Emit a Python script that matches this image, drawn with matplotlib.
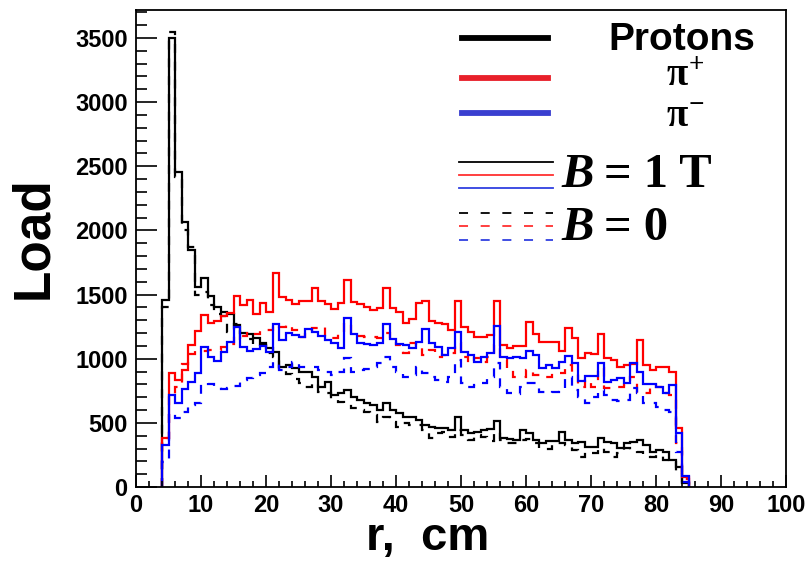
import numpy as np
import matplotlib
matplotlib.use("Agg")
import matplotlib.pyplot as plt
from matplotlib.ticker import MultipleLocator

plt.rcParams["mathtext.fontset"] = "custom"
plt.rcParams["mathtext.rm"] = "Liberation Serif:bold"
plt.rcParams["mathtext.it"] = "Liberation Serif:bold"
plt.rcParams["mathtext.bf"] = "Liberation Serif:bold"

# bin edges (cm): 1 cm bins from 4 to 85
bin_lo = 4
bin_hi = 85

protons_B1 = [1457, 3497, 2458, 2068, 1847, 1561, 1631, 1489, 1405, 1361, 1348, 1263, 1198, 1190, 1159, 1120,
              1081, 1055, 939, 952, 926, 899, 899, 860, 782, 821, 717, 730, 756, 704, 678, 652,
              639, 600, 652, 600, 574, 548, 548, 522, 483, 470, 457, 457, 444, 548, 444, 418,
              431, 444, 449, 514, 379, 371, 366, 444, 423, 366, 345, 361, 361, 431, 366, 340,
              353, 314, 314, 379, 353, 340, 301, 340, 353, 366, 327, 275, 288, 275, 210, 153, 28]
protons_B0 = [1400, 3549, 2420, 2000, 1870, 1500, 1520, 1420, 1350, 1330, 1210, 1270, 1150, 1150, 1100, 1110,
              1042, 1016, 912, 881, 839, 808, 782, 808, 743, 730, 678, 665, 652, 613, 600, 587,
              561, 509, 548, 509, 470, 496, 480, 483, 444, 379, 418, 431, 392, 444, 405, 366,
              405, 392, 361, 431, 366, 340, 340, 366, 372, 340, 301, 293, 340, 340, 327, 288,
              236, 275, 262, 301, 275, 236, 262, 301, 288, 275, 249, 236, 249, 210, 197, 106, 23]
pip_B1 = [379, 890, 836, 914, 1109, 1213, 1343, 1278, 1291, 1330, 1356, 1491, 1421, 1455, 1351, 1437,
          1367, 1665, 1483, 1457, 1426, 1452, 1452, 1548, 1450, 1426, 1385, 1437, 1614, 1444, 1426, 1400,
          1379, 1392, 1548, 1392, 1366, 1276, 1307, 1431, 1450, 1296, 1276, 1268, 1224, 1452, 1250, 1211,
          1167, 1172, 1185, 1452, 1107, 1081, 1099, 1099, 1289, 1193, 1133, 1133, 1133, 1063, 1237, 1159,
          1003, 1047, 1036, 1193, 1003, 990, 932, 951, 959, 1146, 951, 912, 938, 932, 899, 457, 81]
pip_B0 = [379, 720, 781, 960, 1037, 1063, 1063, 1068, 1068, 1094, 1114, 1179, 1179, 1205, 1192, 1224,
          1224, 1263, 1250, 1263, 1224, 1172, 1224, 1237, 1250, 1172, 1159, 1211, 1276, 1198, 1177, 1167,
          1172, 1159, 1198, 1133, 1107, 1042, 1120, 1107, 1029, 1068, 1016, 1029, 1042, 1120, 1016, 964,
          1003, 977, 1016, 1107, 990, 918, 860, 860, 912, 873, 873, 860, 886, 886, 952, 886,
          782, 834, 782, 925, 769, 782, 782, 795, 860, 743, 730, 795, 782, 730, 717, 340, 60]
pim_B1 = [327, 717, 652, 761, 821, 891, 1094, 1011, 985, 1055, 1133, 1250, 1094, 1063, 1073, 1100,
          1050, 1270, 1146, 1198, 1185, 1172, 1229, 1211, 1177, 1146, 1120, 1081, 1314, 1193, 1120, 1115,
          1107, 1120, 1270, 1151, 1115, 1107, 1081, 1133, 1232, 1120, 1094, 1029, 1081, 1211, 1055, 1029,
          977, 1016, 1047, 1255, 1016, 1003, 1010, 1003, 1063, 1029, 926, 952, 926, 977, 1021, 969,
          829, 865, 865, 964, 821, 834, 847, 808, 964, 899, 800, 800, 782, 730, 795, 418, 86]
pim_B0 = [197, 574, 535, 587, 639, 652, 810, 800, 790, 760, 770, 790, 834, 850, 870, 890,
          938, 977, 912, 938, 977, 938, 938, 938, 912, 899, 873, 899, 1003, 899, 912, 918,
          938, 964, 1016, 938, 899, 860, 873, 938, 886, 860, 834, 821, 860, 990, 808, 782,
          795, 813, 855, 964, 782, 730, 725, 782, 813, 813, 743, 735, 743, 756, 860, 756,
          704, 657, 704, 756, 717, 678, 673, 678, 769, 730, 652, 652, 626, 600, 587, 275, 42]

x_ticks = [0, 10, 20, 30, 40, 50, 60, 70, 80, 90, 100]
y_ticks = [0, 500, 1000, 1500, 2000, 2500, 3000, 3500]

W, H = 806, 561
fig = plt.figure(figsize=(W / 100, H / 100), dpi=100)
ax = fig.add_axes([136 / W, 1 - 487 / H, (786 - 136) / W, (487 - 10) / H])

edges = np.arange(bin_lo, bin_hi + 1)
series = [
    (protons_B1, "black", "-"),
    (protons_B0, "black", (0, (4, 4))),
    (pip_B1, "#ff0000", "-"),
    (pip_B0, "#ff0000", (0, (4, 4))),
    (pim_B1, "#0000ff", "-"),
    (pim_B0, "#0000ff", (0, (4, 4))),
]
for vals, col, ls in series:
    ax.stairs(vals, edges, baseline=0, color=col, linestyle=ls, linewidth=1.6)

ax.set_xlim(0, 100)
ax.set_ylim(0, 3718)
ax.set_xticks(x_ticks)
ax.set_yticks(y_ticks)
ax.xaxis.set_minor_locator(MultipleLocator(2))
ax.yaxis.set_minor_locator(MultipleLocator(100))

lab_font = dict(family="Liberation Sans", weight="bold", size=17)
ax.set_xticklabels([str(v) for v in x_ticks], fontdict=lab_font)
ax.set_yticklabels([str(v) for v in y_ticks], fontdict=lab_font)
ax.tick_params(axis="y", which="major", direction="in", length=15, width=1.2, pad=6)
ax.tick_params(axis="y", which="minor", direction="in", length=8, width=1.2)
ax.tick_params(axis="x", which="major", direction="in", length=9, width=1.2, pad=5)
ax.tick_params(axis="x", which="minor", direction="in", length=4.5, width=1.2)
for s in ax.spines.values():
    s.set_linewidth(1.3)

ax.set_xlabel("r,  cm", family="Liberation Sans", weight="bold", size=34)
ax.set_ylabel("Load", family="Liberation Sans", weight="bold", size=37)
ax.xaxis.set_label_coords((428 - 136) / 650, -(538 - 487) / 477)
ax.yaxis.set_label_coords((34 - 136) / 650, (487 - 238) / 477)
ax.xaxis.label.set_va("center")
ax.yaxis.label.set_va("center")

# legend (drawn manually, in figure pixel coords)
def fx(px):
    return px / W

def fy(py):
    return 1 - py / H

for py, col in [(38, "black"), (78, "#e8202a"), (113, "#3a3fd0")]:
    fig.add_artist(plt.Line2D([fx(462), fx(548)], [fy(py), fy(py)], color=col, linewidth=4.2))

fig.text(fx(682), fy(40), "Protons", family="Liberation Sans", weight="bold", size=28,
         ha="center", va="center")
fig.text(fx(685), fy(75), r"$\pi^{+}$", size=28, ha="center", va="center")
fig.text(fx(685), fy(116), r"$\pi^{-}$", size=28, ha="center", va="center")

for py, col in [(162, "black"), (175, "#ff3030"), (188, "#3040e0")]:
    fig.add_artist(plt.Line2D([fx(459), fx(553)], [fy(py), fy(py)], color=col, linewidth=1.3))
for py, col in [(213, "black"), (226, "#ff3030"), (240, "#3040e0")]:
    fig.add_artist(plt.Line2D([fx(459), fx(553)], [fy(py), fy(py)], color=col, linewidth=1.3,
                              linestyle=(0, (5, 7))))

fig.text(fx(561), fy(175), "B", family="Liberation Serif", weight="bold", style="italic", size=35,
         ha="left", va="center")
fig.text(fx(604), fy(175), "= 1 T", family="Liberation Serif", weight="bold", size=35,
         ha="left", va="center")
fig.text(fx(561), fy(228), "B", family="Liberation Serif", weight="bold", style="italic", size=35,
         ha="left", va="center")
fig.text(fx(604), fy(228), "= 0", family="Liberation Serif", weight="bold", size=35,
         ha="left", va="center")

fig.savefig("out.png", dpi=100)
